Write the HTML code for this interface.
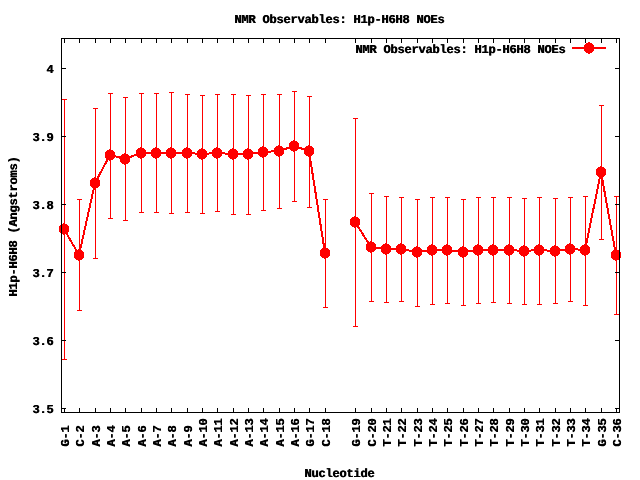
<!DOCTYPE html>
<html lang="en"><head><meta charset="utf-8"><title>NMR Observables: H1p-H6H8 NOEs</title>
<style>html,body{margin:0;padding:0;background:#fff}body{width:640px;height:480px;overflow:hidden}svg{display:block}text{font-family:"Liberation Mono","DejaVu Sans Mono",monospace;font-weight:bold;font-size:12.14px;fill:#000;text-rendering:geometricPrecision;text-shadow:0.5px 0 0 #000}</style></head><body>
<svg width="640" height="480" viewBox="0 0 640 480">
<rect width="640" height="480" fill="#fff"/>
<defs><path id="pt" d="M-1,-6h2v1h2v1h1v1h1v6h-1v1h-1v1h-2v1h-2v-1h-2v-1h-1v-1h-1v-6h1v-1h1v-1h2z"/></defs>
<g>
<text x="234.25 241.25 248.25 255.25 262.25 269.25 276.25 283.25 290.25 297.25 304.25 311.25 318.25 325.25 332.25 339.25 346.25 353.25 360.25 367.25 374.25 381.25 388.25 395.25 402.25 409.25 416.25 423.25 430.25 437.25" y="23">NMR Observables: H1p-H6H8 NOEs</text>
<text x="355.25 362.25 369.25 376.25 383.25 390.25 397.25 404.25 411.25 418.25 425.25 432.25 439.25 446.25 453.25 460.25 467.25 474.25 481.25 488.25 495.25 502.25 509.25 516.25 523.25 530.25 537.25 544.25 551.25 558.25" y="53">NMR Observables: H1p-H6H8 NOEs</text>
<text x="304.25 311.25 318.25 325.25 332.25 339.25 346.25 353.25 360.25 367.25" y="477">Nucleotide</text>
<text x="16.25 23.25 30.25 37.25 44.25 51.25 58.25 65.25 72.25 79.25 86.25 93.25 100.25 107.25 114.25 121.25 128.25 135.25 142.25 149.25" y="296" transform="rotate(-90 17 296)">H1p-H6H8 (Angstroms)</text>
<text x="46.25" y="73">4</text>
<text x="32.25 39.25 46.25" y="141">3.9</text>
<text x="32.25 39.25 46.25" y="209">3.8</text>
<text x="32.25 39.25 46.25" y="277">3.7</text>
<text x="32.25 39.25 46.25" y="345">3.6</text>
<text x="32.25 39.25 46.25" y="413">3.5</text>
<text x="68.25 75.25 82.25" y="446" transform="rotate(-90 69 446)">G-1</text>
<text x="83.25 90.25 97.25" y="446" transform="rotate(-90 84 446)">C-2</text>
<text x="99.25 106.25 113.25" y="446" transform="rotate(-90 100 446)">A-3</text>
<text x="114.25 121.25 128.25" y="446" transform="rotate(-90 115 446)">A-4</text>
<text x="129.25 136.25 143.25" y="446" transform="rotate(-90 130 446)">A-5</text>
<text x="145.25 152.25 159.25" y="446" transform="rotate(-90 146 446)">A-6</text>
<text x="160.25 167.25 174.25" y="446" transform="rotate(-90 161 446)">A-7</text>
<text x="175.25 182.25 189.25" y="446" transform="rotate(-90 176 446)">A-8</text>
<text x="191.25 198.25 205.25" y="446" transform="rotate(-90 192 446)">A-9</text>
<text x="206.25 213.25 220.25 227.25" y="446" transform="rotate(-90 207 446)">A-10</text>
<text x="221.25 228.25 235.25 242.25" y="446" transform="rotate(-90 222 446)">A-11</text>
<text x="237.25 244.25 251.25 258.25" y="446" transform="rotate(-90 238 446)">A-12</text>
<text x="252.25 259.25 266.25 273.25" y="446" transform="rotate(-90 253 446)">A-13</text>
<text x="267.25 274.25 281.25 288.25" y="446" transform="rotate(-90 268 446)">A-14</text>
<text x="283.25 290.25 297.25 304.25" y="446" transform="rotate(-90 284 446)">A-15</text>
<text x="298.25 305.25 312.25 319.25" y="446" transform="rotate(-90 299 446)">A-16</text>
<text x="313.25 320.25 327.25 334.25" y="446" transform="rotate(-90 314 446)">G-17</text>
<text x="329.25 336.25 343.25 350.25" y="446" transform="rotate(-90 330 446)">C-18</text>
<text x="359.25 366.25 373.25 380.25" y="446" transform="rotate(-90 360 446)">G-19</text>
<text x="375.25 382.25 389.25 396.25" y="446" transform="rotate(-90 376 446)">C-20</text>
<text x="390.25 397.25 404.25 411.25" y="446" transform="rotate(-90 391 446)">T-21</text>
<text x="405.25 412.25 419.25 426.25" y="446" transform="rotate(-90 406 446)">T-22</text>
<text x="421.25 428.25 435.25 442.25" y="446" transform="rotate(-90 422 446)">T-23</text>
<text x="436.25 443.25 450.25 457.25" y="446" transform="rotate(-90 437 446)">T-24</text>
<text x="451.25 458.25 465.25 472.25" y="446" transform="rotate(-90 452 446)">T-25</text>
<text x="467.25 474.25 481.25 488.25" y="446" transform="rotate(-90 468 446)">T-26</text>
<text x="482.25 489.25 496.25 503.25" y="446" transform="rotate(-90 483 446)">T-27</text>
<text x="497.25 504.25 511.25 518.25" y="446" transform="rotate(-90 498 446)">T-28</text>
<text x="513.25 520.25 527.25 534.25" y="446" transform="rotate(-90 514 446)">T-29</text>
<text x="528.25 535.25 542.25 549.25" y="446" transform="rotate(-90 529 446)">T-30</text>
<text x="543.25 550.25 557.25 564.25" y="446" transform="rotate(-90 544 446)">T-31</text>
<text x="559.25 566.25 573.25 580.25" y="446" transform="rotate(-90 560 446)">T-32</text>
<text x="574.25 581.25 588.25 595.25" y="446" transform="rotate(-90 575 446)">T-33</text>
<text x="589.25 596.25 603.25 610.25" y="446" transform="rotate(-90 590 446)">T-34</text>
<text x="605.25 612.25 619.25 626.25" y="446" transform="rotate(-90 606 446)">G-35</text>
<text x="620.25 627.25 634.25 641.25" y="446" transform="rotate(-90 621 446)">C-36</text>
</g>
<g fill="#f00" shape-rendering="crispEdges">
<rect x="64" y="99" width="1" height="261"/>
<rect x="62" y="99" width="5" height="1"/><rect x="62" y="359" width="5" height="1"/>
<rect x="79" y="199" width="1" height="112"/>
<rect x="77" y="199" width="5" height="1"/><rect x="77" y="310" width="5" height="1"/>
<rect x="95" y="108" width="1" height="151"/>
<rect x="93" y="108" width="5" height="1"/><rect x="93" y="258" width="5" height="1"/>
<rect x="110" y="93" width="1" height="126"/>
<rect x="108" y="93" width="5" height="1"/><rect x="108" y="218" width="5" height="1"/>
<rect x="125" y="97" width="1" height="124"/>
<rect x="123" y="97" width="5" height="1"/><rect x="123" y="220" width="5" height="1"/>
<rect x="141" y="93" width="1" height="120"/>
<rect x="139" y="93" width="5" height="1"/><rect x="139" y="212" width="5" height="1"/>
<rect x="156" y="93" width="1" height="120"/>
<rect x="154" y="93" width="5" height="1"/><rect x="154" y="212" width="5" height="1"/>
<rect x="171" y="92" width="1" height="122"/>
<rect x="169" y="92" width="5" height="1"/><rect x="169" y="213" width="5" height="1"/>
<rect x="187" y="94" width="1" height="119"/>
<rect x="185" y="94" width="5" height="1"/><rect x="185" y="212" width="5" height="1"/>
<rect x="202" y="95" width="1" height="119"/>
<rect x="200" y="95" width="5" height="1"/><rect x="200" y="213" width="5" height="1"/>
<rect x="217" y="94" width="1" height="118"/>
<rect x="215" y="94" width="5" height="1"/><rect x="215" y="211" width="5" height="1"/>
<rect x="233" y="94" width="1" height="121"/>
<rect x="231" y="94" width="5" height="1"/><rect x="231" y="214" width="5" height="1"/>
<rect x="248" y="95" width="1" height="120"/>
<rect x="246" y="95" width="5" height="1"/><rect x="246" y="214" width="5" height="1"/>
<rect x="263" y="94" width="1" height="117"/>
<rect x="261" y="94" width="5" height="1"/><rect x="261" y="210" width="5" height="1"/>
<rect x="279" y="94" width="1" height="115"/>
<rect x="277" y="94" width="5" height="1"/><rect x="277" y="208" width="5" height="1"/>
<rect x="294" y="91" width="1" height="111"/>
<rect x="292" y="91" width="5" height="1"/><rect x="292" y="201" width="5" height="1"/>
<rect x="309" y="96" width="1" height="112"/>
<rect x="307" y="96" width="5" height="1"/><rect x="307" y="207" width="5" height="1"/>
<rect x="325" y="199" width="1" height="109"/>
<rect x="323" y="199" width="5" height="1"/><rect x="323" y="307" width="5" height="1"/>
<rect x="355" y="118" width="1" height="209"/>
<rect x="353" y="118" width="5" height="1"/><rect x="353" y="326" width="5" height="1"/>
<rect x="371" y="193" width="1" height="109"/>
<rect x="369" y="193" width="5" height="1"/><rect x="369" y="301" width="5" height="1"/>
<rect x="386" y="196" width="1" height="107"/>
<rect x="384" y="196" width="5" height="1"/><rect x="384" y="302" width="5" height="1"/>
<rect x="401" y="197" width="1" height="105"/>
<rect x="399" y="197" width="5" height="1"/><rect x="399" y="301" width="5" height="1"/>
<rect x="417" y="199" width="1" height="108"/>
<rect x="415" y="199" width="5" height="1"/><rect x="415" y="306" width="5" height="1"/>
<rect x="432" y="197" width="1" height="108"/>
<rect x="430" y="197" width="5" height="1"/><rect x="430" y="304" width="5" height="1"/>
<rect x="447" y="197" width="1" height="107"/>
<rect x="445" y="197" width="5" height="1"/><rect x="445" y="303" width="5" height="1"/>
<rect x="463" y="199" width="1" height="107"/>
<rect x="461" y="199" width="5" height="1"/><rect x="461" y="305" width="5" height="1"/>
<rect x="478" y="197" width="1" height="107"/>
<rect x="476" y="197" width="5" height="1"/><rect x="476" y="303" width="5" height="1"/>
<rect x="493" y="197" width="1" height="106"/>
<rect x="491" y="197" width="5" height="1"/><rect x="491" y="302" width="5" height="1"/>
<rect x="509" y="197" width="1" height="107"/>
<rect x="507" y="197" width="5" height="1"/><rect x="507" y="303" width="5" height="1"/>
<rect x="524" y="198" width="1" height="107"/>
<rect x="522" y="198" width="5" height="1"/><rect x="522" y="304" width="5" height="1"/>
<rect x="539" y="197" width="1" height="108"/>
<rect x="537" y="197" width="5" height="1"/><rect x="537" y="304" width="5" height="1"/>
<rect x="555" y="198" width="1" height="106"/>
<rect x="553" y="198" width="5" height="1"/><rect x="553" y="303" width="5" height="1"/>
<rect x="570" y="197" width="1" height="105"/>
<rect x="568" y="197" width="5" height="1"/><rect x="568" y="301" width="5" height="1"/>
<rect x="585" y="196" width="1" height="110"/>
<rect x="583" y="196" width="5" height="1"/><rect x="583" y="305" width="5" height="1"/>
<rect x="601" y="105" width="1" height="135"/>
<rect x="599" y="105" width="5" height="1"/><rect x="599" y="239" width="5" height="1"/>
<rect x="616" y="196" width="1" height="119"/>
<rect x="614" y="196" width="5" height="1"/><rect x="614" y="314" width="5" height="1"/>
<rect x="572" y="47" width="34" height="2"/>
</g>
<g fill="none" stroke="#f00" stroke-width="2" stroke-linejoin="round" shape-rendering="crispEdges">
<polyline points="64,229 79,255 95,183 110,155 125,159 141,153 156,153 171,153 187,153 202,154 217,153 233,154 248,154 263,152 279,151 294,146 309,151 325,253"/>
<polyline points="355,222 371,247 386,249 401,249 417,252 432,250 447,250 463,252 478,250 493,250 509,250 524,251 539,250 555,251 570,249 585,250 601,172 616,255"/>
</g>
<g fill="#f00" shape-rendering="crispEdges">
<use href="#pt" x="64" y="229"/>
<use href="#pt" x="79" y="255"/>
<use href="#pt" x="95" y="183"/>
<use href="#pt" x="110" y="155"/>
<use href="#pt" x="125" y="159"/>
<use href="#pt" x="141" y="153"/>
<use href="#pt" x="156" y="153"/>
<use href="#pt" x="171" y="153"/>
<use href="#pt" x="187" y="153"/>
<use href="#pt" x="202" y="154"/>
<use href="#pt" x="217" y="153"/>
<use href="#pt" x="233" y="154"/>
<use href="#pt" x="248" y="154"/>
<use href="#pt" x="263" y="152"/>
<use href="#pt" x="279" y="151"/>
<use href="#pt" x="294" y="146"/>
<use href="#pt" x="309" y="151"/>
<use href="#pt" x="325" y="253"/>
<use href="#pt" x="355" y="222"/>
<use href="#pt" x="371" y="247"/>
<use href="#pt" x="386" y="249"/>
<use href="#pt" x="401" y="249"/>
<use href="#pt" x="417" y="252"/>
<use href="#pt" x="432" y="250"/>
<use href="#pt" x="447" y="250"/>
<use href="#pt" x="463" y="252"/>
<use href="#pt" x="478" y="250"/>
<use href="#pt" x="493" y="250"/>
<use href="#pt" x="509" y="250"/>
<use href="#pt" x="524" y="251"/>
<use href="#pt" x="539" y="250"/>
<use href="#pt" x="555" y="251"/>
<use href="#pt" x="570" y="249"/>
<use href="#pt" x="585" y="250"/>
<use href="#pt" x="601" y="172"/>
<use href="#pt" x="616" y="255"/>
<use href="#pt" x="589" y="48"/>
</g>
<g fill="#000" shape-rendering="crispEdges">
<rect x="61" y="38" width="559" height="1"/>
<rect x="61" y="412" width="559" height="1"/>
<rect x="61" y="38" width="1" height="375"/>
<rect x="619" y="38" width="1" height="375"/>
<rect x="61" y="68" width="5" height="1"/><rect x="615" y="68" width="5" height="1"/>
<rect x="61" y="136" width="5" height="1"/><rect x="615" y="136" width="5" height="1"/>
<rect x="61" y="204" width="5" height="1"/><rect x="615" y="204" width="5" height="1"/>
<rect x="61" y="272" width="5" height="1"/><rect x="615" y="272" width="5" height="1"/>
<rect x="61" y="340" width="5" height="1"/><rect x="615" y="340" width="5" height="1"/>
<rect x="61" y="408" width="5" height="1"/><rect x="615" y="408" width="5" height="1"/>
<rect x="64" y="38" width="1" height="5"/><rect x="64" y="408" width="1" height="5"/>
<rect x="79" y="38" width="1" height="5"/><rect x="79" y="408" width="1" height="5"/>
<rect x="95" y="38" width="1" height="5"/><rect x="95" y="408" width="1" height="5"/>
<rect x="110" y="38" width="1" height="5"/><rect x="110" y="408" width="1" height="5"/>
<rect x="125" y="38" width="1" height="5"/><rect x="125" y="408" width="1" height="5"/>
<rect x="141" y="38" width="1" height="5"/><rect x="141" y="408" width="1" height="5"/>
<rect x="156" y="38" width="1" height="5"/><rect x="156" y="408" width="1" height="5"/>
<rect x="171" y="38" width="1" height="5"/><rect x="171" y="408" width="1" height="5"/>
<rect x="187" y="38" width="1" height="5"/><rect x="187" y="408" width="1" height="5"/>
<rect x="202" y="38" width="1" height="5"/><rect x="202" y="408" width="1" height="5"/>
<rect x="217" y="38" width="1" height="5"/><rect x="217" y="408" width="1" height="5"/>
<rect x="233" y="38" width="1" height="5"/><rect x="233" y="408" width="1" height="5"/>
<rect x="248" y="38" width="1" height="5"/><rect x="248" y="408" width="1" height="5"/>
<rect x="263" y="38" width="1" height="5"/><rect x="263" y="408" width="1" height="5"/>
<rect x="279" y="38" width="1" height="5"/><rect x="279" y="408" width="1" height="5"/>
<rect x="294" y="38" width="1" height="5"/><rect x="294" y="408" width="1" height="5"/>
<rect x="309" y="38" width="1" height="5"/><rect x="309" y="408" width="1" height="5"/>
<rect x="325" y="38" width="1" height="5"/><rect x="325" y="408" width="1" height="5"/>
<rect x="355" y="38" width="1" height="5"/><rect x="355" y="408" width="1" height="5"/>
<rect x="371" y="38" width="1" height="5"/><rect x="371" y="408" width="1" height="5"/>
<rect x="386" y="38" width="1" height="5"/><rect x="386" y="408" width="1" height="5"/>
<rect x="401" y="38" width="1" height="5"/><rect x="401" y="408" width="1" height="5"/>
<rect x="417" y="38" width="1" height="5"/><rect x="417" y="408" width="1" height="5"/>
<rect x="432" y="38" width="1" height="5"/><rect x="432" y="408" width="1" height="5"/>
<rect x="447" y="38" width="1" height="5"/><rect x="447" y="408" width="1" height="5"/>
<rect x="463" y="38" width="1" height="5"/><rect x="463" y="408" width="1" height="5"/>
<rect x="478" y="38" width="1" height="5"/><rect x="478" y="408" width="1" height="5"/>
<rect x="493" y="38" width="1" height="5"/><rect x="493" y="408" width="1" height="5"/>
<rect x="509" y="38" width="1" height="5"/><rect x="509" y="408" width="1" height="5"/>
<rect x="524" y="38" width="1" height="5"/><rect x="524" y="408" width="1" height="5"/>
<rect x="539" y="38" width="1" height="5"/><rect x="539" y="408" width="1" height="5"/>
<rect x="555" y="38" width="1" height="5"/><rect x="555" y="408" width="1" height="5"/>
<rect x="570" y="38" width="1" height="5"/><rect x="570" y="408" width="1" height="5"/>
<rect x="585" y="38" width="1" height="5"/><rect x="585" y="408" width="1" height="5"/>
<rect x="601" y="38" width="1" height="5"/><rect x="601" y="408" width="1" height="5"/>
<rect x="616" y="38" width="1" height="5"/><rect x="616" y="408" width="1" height="5"/>
</g>
</svg></body></html>
